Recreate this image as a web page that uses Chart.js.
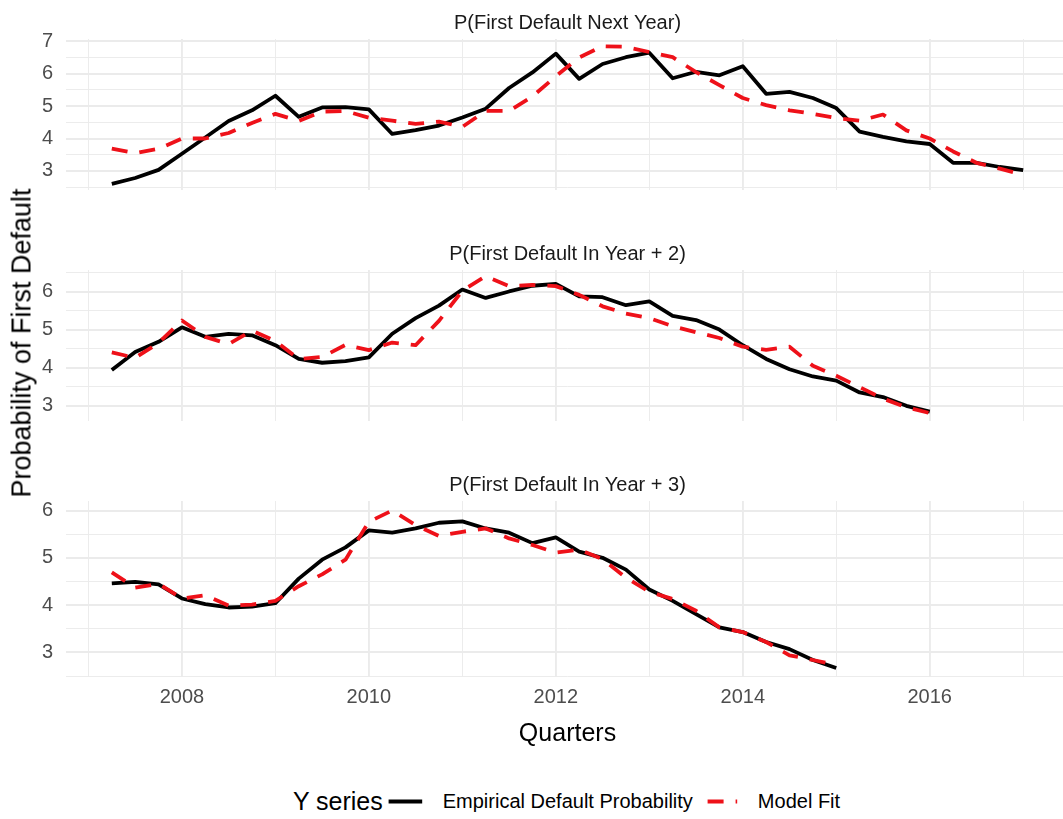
<!DOCTYPE html>
<html>
<head>
<meta charset="utf-8">
<title>Probability of First Default</title>
<script src="https://cdn.jsdelivr.net/npm/chart.js@4/dist/chart.umd.min.js"></script>
<style>
  html, body { margin: 0; padding: 0; background: #ffffff; }
  body {
    position: relative; width: 1063px; height: 819px; overflow: hidden;
    font-family: "Liberation Sans", Arial, Helvetica, sans-serif;
  }
  canvas.panel { position: absolute; left: 0; }
  #yTitle {
    position: absolute; left: 22px; top: 343px;
    transform: translate(-50%, -50%) rotate(-90deg);
    font-size: 27px; color: #000; white-space: nowrap; line-height: 1;
  }
  #legend {
    position: absolute; left: 566.5px; top: 801px;
    transform: translate(-50%, -50%);
    display: flex; align-items: center; white-space: nowrap; color: #000;
  }
  #legend .ltitle { font-size: 25px; margin-right: 2px; }
  #legend .litem { display: flex; align-items: center; }
  #legend .litem + .litem { margin-left: 7px; }
  #legend .llabel { font-size: 20px; margin-left: 16px; }
  #legend svg { display: block; }
</style>
</head>
<body>
<canvas id="panelNextYear" class="panel" width="1080" height="215" style="top:0px"></canvas>
<canvas id="panelYear2" class="panel" width="1080" height="231" style="top:215px"></canvas>
<canvas id="panelYear3" class="panel" width="1080" height="306" style="top:446px"></canvas>
<div id="yTitle">Probability of First Default</div>
<div id="legend"></div>

<script>
// ---- data -------------------------------------------------------------
const quarters = [
  '2007-Q2','2007-Q3','2007-Q4',
  '2008-Q1','2008-Q2','2008-Q3','2008-Q4',
  '2009-Q1','2009-Q2','2009-Q3','2009-Q4',
  '2010-Q1','2010-Q2','2010-Q3','2010-Q4',
  '2011-Q1','2011-Q2','2011-Q3','2011-Q4',
  '2012-Q1','2012-Q2','2012-Q3','2012-Q4',
  '2013-Q1','2013-Q2','2013-Q3','2013-Q4',
  '2014-Q1','2014-Q2','2014-Q3','2014-Q4',
  '2015-Q1','2015-Q2','2015-Q3','2015-Q4',
  '2016-Q1','2016-Q2','2016-Q3','2016-Q4',
  '2017-Q1'
];

const seriesNames = ['Empirical Default Probability', 'Model Fit'];
const panelTitles = [
  'P(First Default Next Year)',
  'P(First Default In Year + 2)',
  'P(First Default In Year + 3)'
];

// P(First Default Next Year)
const nextYearEmpirical = [
  2.60, 2.78, 3.03,
  3.53, 4.03, 4.54, 4.87,
  5.32, 4.67, 4.96, 4.97,
  4.90, 4.14, 4.26, 4.40,
  4.65, 4.92, 5.56, 6.04,
  6.62, 5.84, 6.30, 6.51,
  6.65, 5.86, 6.06, 5.95,
  6.23, 5.38, 5.44, 5.25,
  4.94, 4.21, 4.05, 3.91,
  3.83, 3.25, 3.25, 3.12,
  3.02
];
const nextYearModel = [
  3.69, 3.55, 3.68,
  4.00, 4.00, 4.17, 4.48,
  4.76, 4.54, 4.83, 4.85,
  4.64, 4.55, 4.45, 4.52,
  4.36, 4.85, 4.85, 5.30,
  5.92, 6.50, 6.85, 6.83,
  6.67, 6.51, 6.05, 5.65,
  5.25, 5.03, 4.87, 4.76,
  4.63, 4.55, 4.74, 4.25,
  4.00, 3.60, 3.25, 3.07,
  2.88
];

// P(First Default In Year + 2)
const year2Empirical = [
  3.94, 4.41, 4.68,
  5.06, 4.81, 4.89, 4.85,
  4.59, 4.23, 4.13, 4.17,
  4.27, 4.89, 5.30, 5.63,
  6.05, 5.83, 6.00, 6.15,
  6.20, 5.87, 5.85, 5.64,
  5.74, 5.36, 5.25, 5.00,
  4.59, 4.23, 3.96, 3.77,
  3.66, 3.35, 3.23, 3.00,
  2.85
];
const year2Model = [
  4.40, 4.26, 4.65,
  5.24, 4.81, 4.62, 4.97,
  4.70, 4.23, 4.28, 4.60,
  4.46, 4.66, 4.59, 5.23,
  6.02, 6.40, 6.14, 6.17,
  6.14, 5.91, 5.61, 5.42,
  5.30, 5.09, 4.93, 4.78,
  4.55, 4.47, 4.55, 4.05,
  3.79, 3.49, 3.19, 2.96,
  2.81
];

// P(First Default In Year + 3)
const year3Empirical = [
  4.46, 4.49, 4.44,
  4.14, 4.02, 3.95, 3.97,
  4.04, 4.56, 4.96, 5.22,
  5.58, 5.53, 5.62, 5.74,
  5.77, 5.62, 5.53, 5.31,
  5.43, 5.13, 5.00, 4.75,
  4.33, 4.09, 3.81, 3.53,
  3.43, 3.22, 3.07, 2.84,
  2.67
];
const year3Model = [
  4.69, 4.37, 4.45,
  4.14, 4.21, 3.99, 4.01,
  4.09, 4.40, 4.65, 4.96,
  5.76, 6.00, 5.69, 5.46,
  5.55, 5.62, 5.41, 5.27,
  5.11, 5.17, 4.97, 4.58,
  4.28, 4.13, 3.88, 3.53,
  3.43, 3.22, 2.94, 2.84,
  2.74
];

// axis ticks
const yearGrid = [2007, 2008, 2009, 2010, 2011, 2012, 2013, 2014, 2015, 2016, 2017];
const yearLabels = [2008, 2010, 2012, 2014, 2016];
const yTicksNextYear = [3, 4, 5, 6, 7];
const yTicksYear2 = [3, 4, 5, 6];
const yTicksYear3 = [3, 4, 5, 6];

// ---- helpers -----------------------------------------------------------
const FONT = '"Liberation Sans", Arial, Helvetica, sans-serif';
const GRID = '#ebebeb';
const COLORS = { empirical: '#000000', model: '#ee1119' };
const MODEL_DASH = [16, 12];
const LINE_W = 3.8;

Chart.defaults.font.family = FONT;

function quarterToYear(q) {
  const [y, qq] = q.split('-Q');
  return Number(y) + (Number(qq) - 1) / 4;
}

function toPoints(values) {
  return values.map((v, i) => ({ x: quarterToYear(quarters[i]), y: v }));
}

// major ticks plus the half-way minor grid lines that fall inside the axis range
function gridValues(major, min, max) {
  const out = [];
  major.forEach(v => { out.push(v - 0.5, v); });
  out.push(major[major.length - 1] + 0.5);
  return out.filter(v => v >= min - 1e-9 && v <= max + 1e-9);
}

// facet strip label, centred over the plotting area
const stripTitle = {
  id: 'stripTitle',
  afterDraw(chart, args, opts) {
    const { ctx, chartArea } = chart;
    ctx.save();
    ctx.font = '20px ' + FONT;
    ctx.fillStyle = '#1a1a1a';
    ctx.textAlign = 'center';
    ctx.textBaseline = 'middle';
    ctx.fillText(opts.text, (chartArea.left + chartArea.right) / 2, chartArea.top - 16);
    ctx.restore();
  }
};

function makePanel(canvasId, title, empirical, model, yTicks, yMin, yMax, topPad, bottomAxis) {
  return new Chart(document.getElementById(canvasId), {
    type: 'line',
    data: {
      datasets: [
        {
          label: seriesNames[0],
          data: toPoints(empirical),
          borderColor: COLORS.empirical,
          backgroundColor: COLORS.empirical,
          borderWidth: LINE_W,
          borderJoinStyle: 'round',
          borderCapStyle: 'butt',
          pointRadius: 0,
          tension: 0,
          order: 1
        },
        {
          label: seriesNames[1],
          data: toPoints(model),
          borderColor: COLORS.model,
          backgroundColor: COLORS.model,
          borderWidth: LINE_W,
          borderDash: MODEL_DASH,
          borderJoinStyle: 'round',
          borderCapStyle: 'butt',
          pointRadius: 0,
          tension: 0,
          order: 0
        }
      ]
    },
    plugins: [stripTitle],
    options: {
      responsive: false,
      animation: false,
      events: [],
      layout: { padding: { top: topPad, right: 11, bottom: 0, left: 0 } },
      plugins: {
        legend: { display: false },
        tooltip: { enabled: false },
        title: { display: false },
        stripTitle: { text: title }
      },
      scales: {
        x: {
          type: 'linear',
          min: 2006.76,
          max: 2017.49,
          afterBuildTicks: axis => { axis.ticks = yearGrid.map(v => ({ value: v })); },
          afterFit: axis => { axis.height = bottomAxis ? 75 : 0; },
          border: { display: false },
          grid: {
            drawTicks: false,
            color: GRID,
            lineWidth: ctx => (ctx.tick && yearLabels.includes(ctx.tick.value)) ? 1.9 : 0.95
          },
          ticks: {
            display: bottomAxis,
            autoSkip: false,
            maxRotation: 0,
            padding: 8,
            color: '#4d4d4d',
            font: { size: 20, family: FONT },
            callback: v => yearLabels.includes(v) ? String(v) : ''
          },
          title: {
            display: bottomAxis,
            text: 'Quarters',
            color: '#000000',
            font: { size: 25, family: FONT },
            padding: { top: 0, bottom: 3 }
          }
        },
        y: {
          type: 'linear',
          min: yMin,
          max: yMax,
          afterBuildTicks: axis => {
            axis.ticks = gridValues(yTicks, yMin, yMax).map(v => ({ value: v }));
          },
          afterFit: axis => { axis.width = 66; },
          border: { display: false },
          grid: {
            drawTicks: false,
            color: GRID,
            lineWidth: ctx => (ctx.tick && yTicks.includes(ctx.tick.value)) ? 1.9 : 0.95
          },
          ticks: {
            autoSkip: false,
            padding: 13,
            color: '#4d4d4d',
            font: { size: 20, family: FONT },
            callback: v => yTicks.includes(v) ? String(v) : ''
          }
        }
      }
    }
  });
}

const charts = [
  makePanel('panelNextYear', panelTitles[0], nextYearEmpirical, nextYearModel, yTicksNextYear, 2.41, 7.072, 39, false),
  makePanel('panelYear2', panelTitles[1], year2Empirical, year2Model, yTicksYear2, 2.602, 6.563, 55, false),
  makePanel('panelYear3', panelTitles[2], year3Empirical, year3Model, yTicksYear3, 2.481, 6.20, 55, true)
];

// ---- shared legend, built from the datasets of the bottom panel -----------
(function buildLegend() {
  const legend = document.getElementById('legend');
  const t = document.createElement('span');
  t.className = 'ltitle';
  t.textContent = 'Y series';
  legend.appendChild(t);
  const svgNS = 'http://www.w3.org/2000/svg';
  charts[2].data.datasets.forEach(ds => {
    const item = document.createElement('div');
    item.className = 'litem';
    const svg = document.createElementNS(svgNS, 'svg');
    svg.setAttribute('width', '42');
    svg.setAttribute('height', '12');
    const line = document.createElementNS(svgNS, 'line');
    line.setAttribute('x1', '4.2');
    line.setAttribute('x2', '37.8');
    line.setAttribute('y1', '6');
    line.setAttribute('y2', '6');
    line.setAttribute('stroke', ds.borderColor);
    line.setAttribute('stroke-width', String(ds.borderWidth));
    line.setAttribute('stroke-linecap', 'butt');
    if (ds.borderDash) {
      line.setAttribute('stroke-dasharray', ds.borderDash.join(' '));
      line.setAttribute('stroke-dashoffset', '-4');
    }
    svg.appendChild(line);
    const lab = document.createElement('span');
    lab.className = 'llabel';
    lab.textContent = ds.label;
    item.appendChild(svg);
    item.appendChild(lab);
    legend.appendChild(item);
  });
})();
</script>
</body>
</html>
